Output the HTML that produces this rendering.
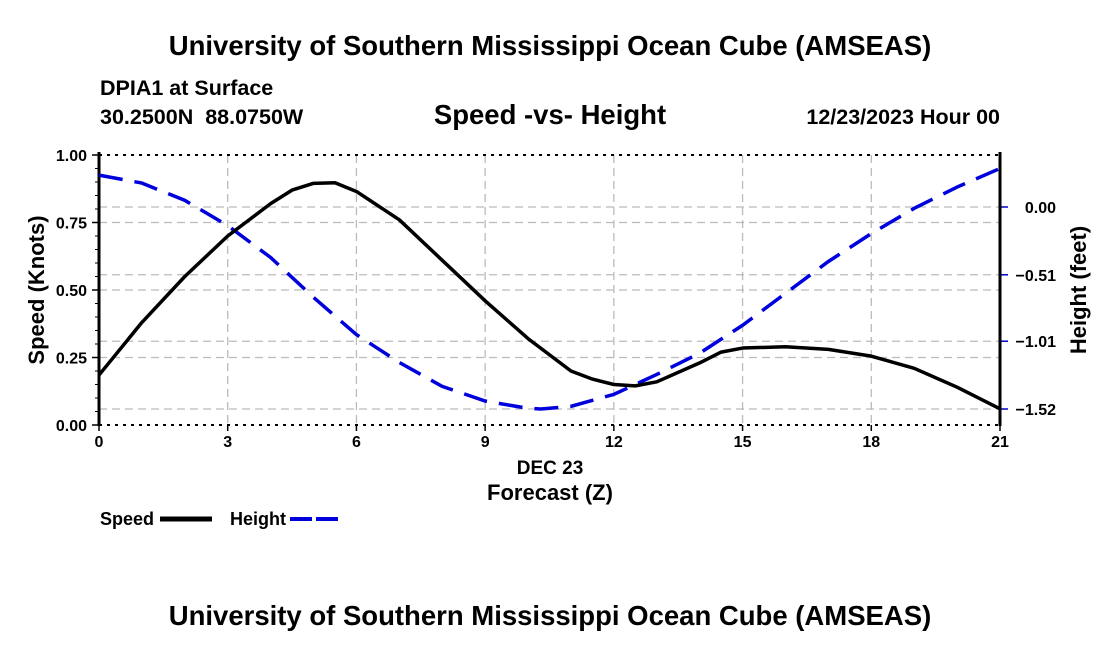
<!DOCTYPE html>
<html><head><meta charset="utf-8"><style>
body{margin:0;background:#fff;width:1100px;height:650px;overflow:hidden;font-family:"Liberation Sans",Arial,sans-serif}
svg text{font-family:"Liberation Sans",Arial,sans-serif;font-weight:bold;fill:#000;white-space:pre}
</style></head><body>
<svg id="c" width="1100" height="650">
<text x="550" y="55" text-anchor="middle" font-size="27.5">University of Southern Mississippi Ocean Cube (AMSEAS)</text>
<text x="100" y="95" font-size="21.5">DPIA1 at Surface</text>
<text x="100" y="124" font-size="21.5">30.2500N  88.0750W</text>
<text x="550" y="124" text-anchor="middle" font-size="27.5">Speed -vs- Height</text>
<text x="1000" y="124" text-anchor="end" font-size="21.5">12/23/2023 Hour 00</text>
<text x="550" y="474" text-anchor="middle" font-size="19">DEC 23</text>
<text x="550" y="500" text-anchor="middle" font-size="22">Forecast (Z)</text>
<text transform="translate(44,290) rotate(-90)" text-anchor="middle" font-size="22">Speed (Knots)</text>
<text transform="translate(1086,290) rotate(-90)" text-anchor="middle" font-size="22">Height (feet)</text>
<g>
<text x="100" y="525" font-size="18">Speed</text>
<line x1="160" y1="519" x2="212" y2="519" stroke="#000" stroke-width="5"/>
<text x="230" y="525" font-size="18">Height</text>
<line x1="290" y1="519" x2="342" y2="519" stroke="#0000dd" stroke-width="4" stroke-dasharray="22,4"/>
</g>
<text x="550" y="625" text-anchor="middle" font-size="27.5">University of Southern Mississippi Ocean Cube (AMSEAS)</text>
</svg>
<script>
const hours=[0,1,2,3,4,4.5,5,5.5,6,7,8,9,10,11,11.5,12,12.5,13,14,14.5,15,16,17,18,19,20,21];
const speed=[0.185,0.38,0.55,0.70,0.82,0.87,0.895,0.897,0.865,0.76,0.61,0.46,0.32,0.20,0.17,0.15,0.145,0.16,0.23,0.27,0.285,0.29,0.28,0.255,0.21,0.14,0.06];
const hHours=[0,1,2,3,4,5,6,7,8,9,10,10.3,11,12,13,14,15,16,17,18,19,20,21];
const height=[0.24,0.18,0.05,-0.14,-0.38,-0.68,-0.96,-1.17,-1.35,-1.46,-1.515,-1.52,-1.50,-1.41,-1.26,-1.10,-0.89,-0.65,-0.41,-0.20,-0.01,0.15,0.29];
const xTicks=[0,3,6,9,12,15,18,21];
const yTicks=[0,0.25,0.5,0.75,1.0];
const y2Ticks=[0,-0.51,-1.01,-1.52];
const L=99,R=1000,T=155,B=425;
const X=h=>L+(R-L)*h/21;
const Y=v=>B-(B-T)*v;
const H=f=>207-f*(202/1.52);
const svg=document.getElementById('c');
const NS='http://www.w3.org/2000/svg';
function mk(t,a){const e=document.createElementNS(NS,t);for(const k in a)e.setAttribute(k,a[k]);svg.appendChild(e);return e;}
xTicks.forEach(h=>{if(h>0&&h<21){const g=mk('line',{x1:X(h),x2:X(h),y1:T,y2:B,stroke:'#bbb','stroke-width':1.3,'stroke-dasharray':'8,5'});

}
const t=mk('text',{x:X(h),y:B+22,'text-anchor':'middle','font-size':16});t.textContent=h;


const tk=mk('line',{x1:X(h),x2:X(h),y1:B,y2:B+6,stroke:'#000','stroke-width':1.5});

});
yTicks.forEach(v=>{if(v>0&&v<1){const g=mk('line',{x1:L,x2:R,y1:Y(v),y2:Y(v),stroke:'#bbb','stroke-width':1.3,'stroke-dasharray':'8,5'});

}
const t=mk('text',{x:L-12,y:Y(v)+6,'text-anchor':'end','font-size':16});t.textContent=v.toFixed(2);


const tk=mk('line',{x1:L-7,x2:L,y1:Y(v),y2:Y(v),stroke:'#000','stroke-width':1.5});

});
for(let v=0.05;v<1;v+=0.05){const tk=mk('line',{x1:L-4,x2:L,y1:Y(v),y2:Y(v),stroke:'#000','stroke-width':1});

}
y2Ticks.forEach(f=>{const g=mk('line',{x1:L,x2:R,y1:H(f),y2:H(f),stroke:'#bbb','stroke-width':1.3,'stroke-dasharray':'8,5'});


const t=mk('text',{x:R+56,y:H(f)+6,'text-anchor':'end','font-size':16});t.textContent=(f<0?'\u2212':'')+Math.abs(f).toFixed(2);


const tk=mk('line',{x1:R,x2:R+8,y1:H(f),y2:H(f),stroke:'#0000cc','stroke-width':1.5});

});
[T,B].forEach(y=>{const b=mk('line',{x1:L,x2:R,y1:y,y2:y,stroke:'#000','stroke-width':2,'stroke-dasharray':'3,5'});

});
const la=mk('line',{x1:L,x2:L,y1:T-3,y2:B+1,stroke:'#000','stroke-width':3});


const ra=mk('line',{x1:R,x2:R,y1:T-3,y2:B+1,stroke:'#000','stroke-width':3});


const hp=mk('polyline',{points:hHours.map((h,i)=>X(h)+','+H(height[i])).join(' '),fill:'none',stroke:'#0000dd','stroke-width':3.5,'stroke-dasharray':'24,12'});


const sp=mk('polyline',{points:hours.map((h,i)=>X(h)+','+Y(speed[i])).join(' '),fill:'none',stroke:'#000','stroke-width':3.5,'stroke-linejoin':'round'});


</script>
</body></html>
